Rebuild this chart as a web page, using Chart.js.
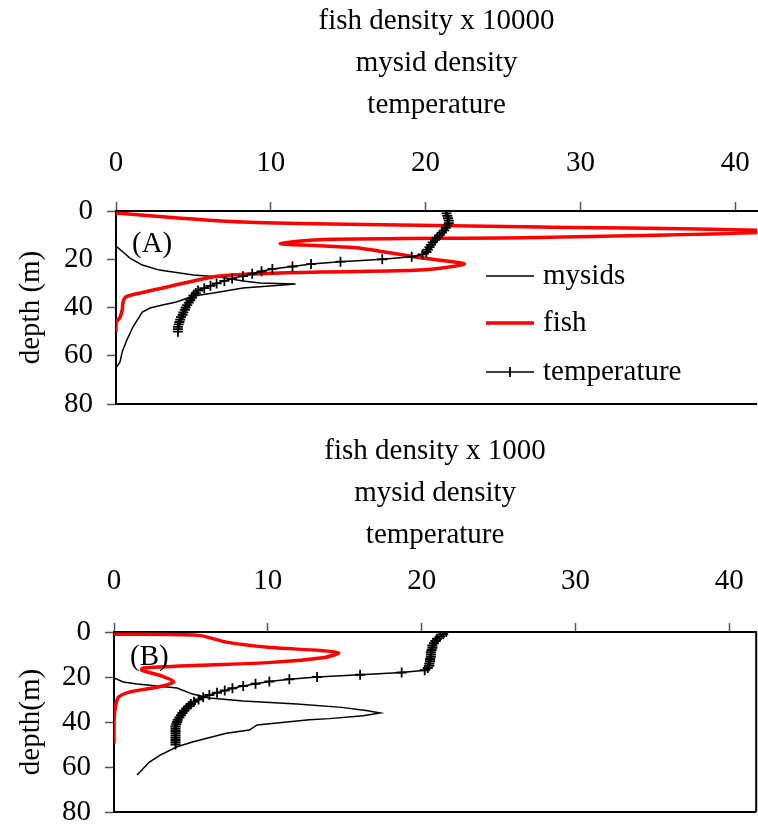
<!DOCTYPE html>
<html>
<head>
<meta charset="utf-8">
<script src="https://cdn.jsdelivr.net/npm/chart.js@4.4.0/dist/chart.umd.min.js"></script>
<style>
  html, body { margin: 0; padding: 0; background: #fff; overflow: hidden; width: 758px; height: 826px; }
  canvas { display: block; }
</style>
</head>
<body>
<canvas id="chartA" width="764" height="415"></canvas>
<canvas id="chartB" width="763" height="411"></canvas>
<script>
// --- data (x = value, depth in m) ---
const xTicks = [0, 10, 20, 30, 40];
const depthTicks = [0, 20, 40, 60, 80];

// panel A
const fishValA   = [0, 4, 8.2, 13.8, 27.4, 44, 27.4, 13.5, 10.6, 13.5, 15.7, 19.8, 22.5, 19.6, 13.2, 6.7, 3.3, 1.2, 0.6, 0.45, 0.4, 0.26, 0, 0];
const fishDepthA = [0.8, 2.9, 4.6, 5.4, 6.6, 8.5, 11, 11.8, 13.5, 14.5, 15.3, 19.5, 22, 24.5, 25.3, 26.9, 31.5, 34.5, 35.8, 38, 41, 44, 46.4, 50];

const mysidValA   = [0.06, 0.45, 0.9, 1.7, 2.8, 5.0, 6.7, 8.2, 9.3, 11.6, 10.8, 8.2, 6.3, 5.0, 3.9, 3.0, 2.2, 1.7, 1.1, 0.7, 0.4, 0.26, 0];
const mysidDepthA = [14.9, 17, 19.5, 22.4, 24.5, 26.5, 27.4, 29, 29.8, 30.3, 30.7, 31.9, 34, 35.2, 37.7, 39, 40.2, 41.9, 48, 53.5, 58.4, 62.6, 65];

const tempA = [21.3, 21.35, 21.4, 21.45, 21.5, 21.5, 21.4, 21.3, 21.2, 21.05,
               20.9, 20.75, 20.6, 20.45, 20.35, 20.25, 20.15, 20.05, 19.8, 19.1,
               17.2, 14.5, 12.6, 11.4, 10.1, 9.4, 8.8, 8.2, 7.5, 7.0,
               6.5, 6.1, 5.7, 5.3, 5.15, 5.0, 4.9, 4.8, 4.7, 4.6,
               4.5, 4.45, 4.35, 4.3, 4.2, 4.15, 4.1, 4.05, 4.0, 4.0, 4.0];

// panel B
const fishValB   = [0, 5.5, 7.3, 10.2, 13.4, 14.6, 13.7, 10.2, 5.6, 1.9, 1.8, 3.2, 3.9, 3.3, 2.5, 1.0, 0.3, 0.1, 0, 0];
const fishDepthB = [1, 1.5, 4.5, 6.9, 8.2, 9.3, 11.3, 13.5, 14.8, 16, 16.9, 19.8, 22.2, 23.8, 24.9, 26.7, 28.9, 33, 40, 49.5];

const mysidValB   = [0, 0.6, 1.5, 4.1, 5.1, 6.2, 8.4, 11.9, 14.8, 16.5, 17.3, 16.2, 14, 12.7, 9.3, 8.8, 7.3, 5.1, 4.1, 3.0, 2.3, 1.5];
const mysidDepthB = [20.4, 22.2, 23.1, 24.9, 27.6, 29.3, 30.7, 32, 33.5, 35, 36, 37.2, 38.5, 39, 41.3, 43.6, 45, 48.9, 51, 54.7, 57.8, 63.6];

const tempB = [21.6, 21.4, 21.2, 21.0, 20.9, 20.8, 20.7, 20.7, 20.65, 20.6,
               20.6, 20.6, 20.55, 20.55, 20.5, 20.5, 20.4, 20.2, 18.7, 16.0,
               13.2, 11.4, 10.1, 9.2, 8.4, 7.7, 7.2, 6.7, 6.2, 5.8,
               5.5, 5.2, 5.0, 4.85, 4.7, 4.55, 4.45, 4.35, 4.25, 4.15,
               4.1, 4.05, 4.0, 4.0, 4.0, 4.0, 4.0, 4.0, 4.0, 4.0, 4.0];

const seriesLabels = ['mysids', 'fish', 'temperature'];

const SERIF = "'Liberation Serif', 'Times New Roman', serif";
const FISH_RED = '#ff0000';

function toPoints(xs, ys) {
    return xs.map((v, i) => ({ x: v, y: ys[i] }));
}
function tempPoints(vals) {
    // one reading per metre of depth
    return vals.map((v, i) => ({ x: v, y: i }));
}

// bottom (and optional right) frame of the plot
const framePlugin = {
    id: 'frame',
    afterDraw(chart, args, opts) {
        const { ctx, chartArea: a } = chart;
        ctx.save();
        ctx.strokeStyle = '#000';
        ctx.lineWidth = 2;
        ctx.beginPath();
        ctx.moveTo(a.left, a.bottom);
        ctx.lineTo(a.right, a.bottom);
        if (opts.right) {
            ctx.moveTo(a.right, a.top);
            ctx.lineTo(a.right, a.bottom);
        }
        ctx.stroke();
        ctx.restore();
    }
};

// panel tag "(A)" / "(B)" and the in-plot legend
const notesPlugin = {
    id: 'notes',
    afterDraw(chart, args, opts) {
        const { ctx, chartArea: a } = chart;
        ctx.save();
        ctx.font = '29px ' + SERIF;
        ctx.fillStyle = '#000';
        ctx.textBaseline = 'middle';
        ctx.textAlign = 'left';
        ctx.fillText(opts.tag, a.left + 16, a.top + opts.tagDy);

        if (opts.legend) {
            const x0 = a.left + 370, x1 = x0 + 48;
            const rows = [a.top + 65, a.top + 112, a.top + 161];
            chart.data.datasets.forEach((ds, i) => {
                const y = rows[i];
                ctx.strokeStyle = ds.borderColor;
                ctx.lineWidth = ds.borderWidth;
                ctx.beginPath();
                ctx.moveTo(x0, y);
                ctx.lineTo(x1, y);
                ctx.stroke();
                if (ds.pointStyle === 'cross') {
                    const c = (x0 + x1) / 2;
                    ctx.lineWidth = ds.pointBorderWidth;
                    ctx.beginPath();
                    ctx.moveTo(c, y - 5);
                    ctx.lineTo(c, y + 5);
                    ctx.stroke();
                }
                ctx.fillStyle = '#000';
                ctx.fillText(ds.label, x1 + 9, y);
            });
        }
        ctx.restore();
    }
};

function makeChart(id, p) {
    const ctx = document.getElementById(id).getContext('2d');
    return new Chart(ctx, {
        type: 'line',
        data: {
            datasets: [
                {
                    label: seriesLabels[0],
                    data: toPoints(p.mysidVal, p.mysidDepth),
                    borderColor: '#000',
                    borderWidth: 1.5,
                    pointRadius: 0,
                    tension: 0,
                    order: 2
                },
                {
                    label: seriesLabels[1],
                    data: toPoints(p.fishVal, p.fishDepth),
                    borderColor: FISH_RED,
                    borderWidth: 3.5,
                    pointRadius: 0,
                    tension: 0.25,
                    order: 1
                },
                {
                    label: seriesLabels[2],
                    data: tempPoints(p.temp),
                    borderColor: '#000',
                    borderWidth: 1.5,
                    pointStyle: 'cross',
                    pointRadius: 5,
                    pointBorderWidth: 1.8,
                    pointBorderColor: '#000',
                    pointBackgroundColor: '#000',
                    tension: 0,
                    order: 0
                }
            ]
        },
        options: {
            responsive: false,
            animation: false,
            devicePixelRatio: 1,
            parsing: false,
            layout: { padding: { left: 0, top: 0, right: 0, bottom: p.padBottom } },
            plugins: {
                legend: { display: false },
                tooltip: { enabled: false },
                frame: { right: p.frameRight },
                notes: { tag: p.tag, tagDy: p.tagDy, legend: p.showLegend }
            },
            scales: {
                x: {
                    type: 'linear',
                    position: 'top',
                    min: 0,
                    max: p.xMax,
                    afterBuildTicks: s => { s.ticks = xTicks.map(v => ({ value: v })); },
                    ticks: {
                        includeBounds: false,
                        padding: p.xTickPad,
                        maxRotation: 0,
                        color: '#000',
                        font: { family: SERIF, size: 29 }
                    },
                    grid: { display: true, drawOnChartArea: false, tickLength: 9, tickColor: '#555', tickWidth: 1.5 },
                    border: { display: true, color: '#000', width: 2 },
                    title: {
                        display: true,
                        text: p.xTitle,
                        color: '#000',
                        font: { family: SERIF, size: 29, lineHeight: 1.45 },
                        padding: { top: p.titleTop, bottom: 0 }
                    },
                    afterFit: s => { s.height = p.axisTop; s.paddingLeft = 0; s.paddingRight = 0; }
                },
                y: {
                    type: 'linear',
                    reverse: true,
                    min: 0,
                    max: 80,
                    afterBuildTicks: s => { s.ticks = depthTicks.map(v => ({ value: v })); },
                    ticks: {
                        padding: 14,
                        color: '#000',
                        font: { family: SERIF, size: 29 }
                    },
                    grid: { display: true, drawOnChartArea: false, tickLength: 9, tickColor: '#555', tickWidth: 1.5 },
                    border: { display: true, color: '#000', width: 2 },
                    title: {
                        display: true,
                        text: p.yTitle,
                        color: '#000',
                        font: { family: SERIF, size: 29, lineHeight: 1.2 },
                        padding: { top: 14, bottom: 0 }
                    },
                    afterFit: s => { s.width = p.axisLeft; s.paddingTop = 0; s.paddingBottom = 0; }
                }
            }
        },
        plugins: [framePlugin, notesPlugin]
    });
}

makeChart('chartA', {
    fishVal: fishValA, fishDepth: fishDepthA,
    mysidVal: mysidValA, mysidDepth: mysidDepthA,
    temp: tempA,
    xMax: 41.42, xTitle: ['fish density x 10000', 'mysid density', 'temperature'],
    yTitle: 'depth (m)',
    axisTop: 211, axisLeft: 116, padBottom: 11,
    titleTop: 0, xTickPad: 21,
    frameRight: false, tag: '(A)', tagDy: 33, showLegend: true
});

makeChart('chartB', {
    fishVal: fishValB, fishDepth: fishDepthB,
    mysidVal: mysidValB, mysidDepth: mysidDepthB,
    temp: tempB,
    xMax: 41.75, xTitle: ['fish density x 1000', 'mysid density', 'temperature'],
    yTitle: 'depth(m)',
    axisTop: 217, axisLeft: 114, padBottom: 14,
    titleTop: 15, xTickPad: 24,
    frameRight: true, tag: '(B)', tagDy: 25, showLegend: false
});
</script>
</body>
</html>
